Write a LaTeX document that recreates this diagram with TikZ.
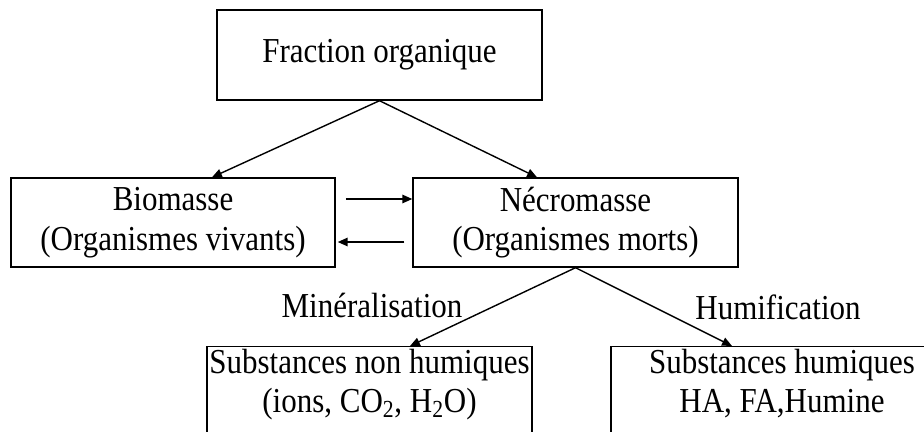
\documentclass[tikz,border=0pt]{standalone}
\usepackage{fontspec}
\setmainfont[FakeStretch=0.885]{Liberation Serif}
\usetikzlibrary{arrows.meta}
\begin{document}
\begin{tikzpicture}[x=0.025cm, y=-0.025cm,
      boite/.style = {shape=rectangle, draw, line width=1pt,
        align=center, inner sep=0pt,
        font=\fontsize{24.9}{28}\selectfont
      },
      bas/.style = {boite, anchor=north, text height=1.65cm, text depth=2cm},
      fleche/.style = {line width=1pt, -{Triangle[length=7pt, width=6pt]}},
      texto/.style = {font=\fontsize{24.9}{28}\selectfont, inner sep=0pt}
    ]
    \useasboundingbox (0,0) rectangle (924,432);
    \clip (0,0) rectangle (924,432);

    \node[boite, minimum width=8.125cm, minimum height=2.25cm] (fraction) at (379.5,55) {Fraction organique};
    \node[boite, minimum width=8.1cm, minimum height=2.225cm] (bio) at (173,222.5) {Biomasse\\(Organismes vivants)};
    \node[boite, minimum width=8.125cm, minimum height=2.225cm] (necro) at (575.5,222.5) {Nécromasse\\(Organismes morts)};
    \node[bas, minimum width=8.125cm] (nonhum) at (369.5,346) {Substances non humiques\\(ions, CO\textsubscript{2}, H\textsubscript{2}O)};
    \node[bas, minimum width=8.55cm] (hum) at (782,346) {Substances humiques\\HA, FA,Humine};

    %fractions
    \draw[fleche] (fraction.south) -- ([xshift=0.975cm]bio.north);
    \draw[fleche] (fraction.south) -- ([xshift=-0.9625cm]necro.north);

    %echanges
    \draw[fleche] ([xshift=0.25cm, yshift=0.5875cm]bio.east) -- ([yshift=0.5875cm]necro.west);
    \draw[fleche] ([xshift=-0.2cm, yshift=-0.4875cm]necro.west) -- ([xshift=0.05cm, yshift=-0.4875cm]bio.east);

    %transformations
    \draw[fleche] (necro.south) -- ([xshift=1.0125cm]nonhum.north);
    \draw[fleche] (necro.south) -- ([xshift=-1.25cm]hum.north);
    \node[texto] (mineral) at (372,305) {Minéralisation};
    \node[texto] (humif) at (778,307) {Humification};
\end{tikzpicture}
\end{document}
